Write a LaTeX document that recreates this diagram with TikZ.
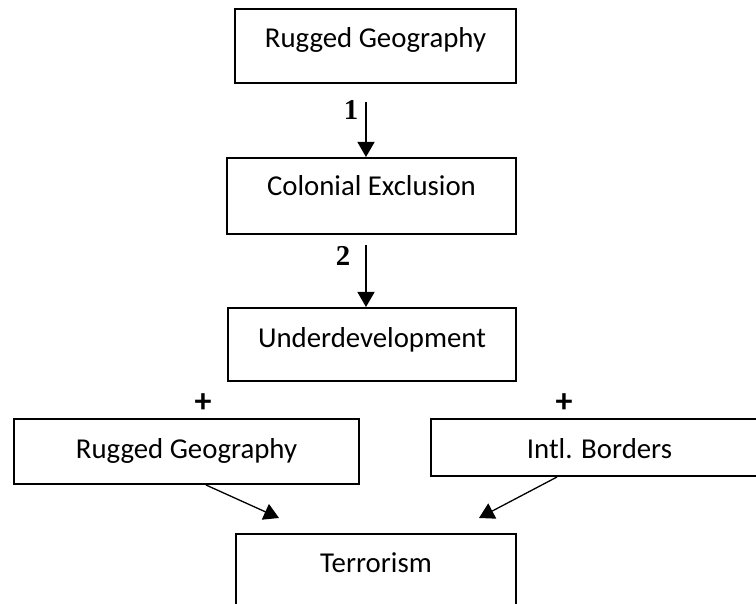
\documentclass[tikz,border=0pt]{standalone}
\usepackage{fontspec}
\newfontfamily\boxfont{Carlito}
\newfontfamily\numfont{Liberation Serif}
\usepackage{tikz}
\usetikzlibrary{arrows.meta,positioning}
\tikzset{
  >={Triangle[length=7.5pt,width=8.5pt]},
  cbox/.style={draw, line width=1pt, inner sep=0pt, anchor=north west,
    font=\boxfont\fontsize{14.4}{17}\selectfont},
  plusmark/.style={font=\boxfont\bfseries\fontsize{17}{20}\selectfont, inner sep=0pt},
  steplbl/.style={font=\numfont\bfseries\fontsize{14.4}{17}\selectfont, inner sep=0pt},
  link/.style={->, line width=0.65pt},
}

\begin{document}
\begin{tikzpicture}[x=0.5pt, y=0.5pt]
\useasboundingbox (0,0) rectangle (756,604);
% the chain
\node[cbox, minimum width=140.5pt, text height=19.5pt, text depth=17.5pt] (geo) at (234,596) {Rugged Geography};
\node[cbox, minimum width=144.5pt, text height=19pt, text depth=19pt] (colon) at (226,447) {Colonial Exclusion};
\node[cbox, minimum width=144pt, text height=20pt, text depth=16.5pt] (under) at (227,297) {Underdevelopment};
% the two conditions
\node[cbox, minimum width=172.5pt, text height=20pt, text depth=12.5pt] (geotwo) at (13,186) {Rugged Geography};
\node[cbox, minimum width=168.5pt, text height=20pt, text depth=8.5pt] (borders) at (430,186) {Intl. Borders};
\node[plusmark] (plusl) at (203,201) {+};
\node[plusmark] (plusr) at (564,201) {+};
% outcome
\node[cbox, minimum width=140pt, text height=19.5pt, text depth=20pt] (terror) at (235,71) {Terrorism};
% arrows
\draw[link] ([xshift=-4.75pt, yshift=-9pt]geo.south) -- ([xshift=-2.75pt]colon.north)
  node[steplbl, pos=0.14, anchor=east, xshift=-3.5pt] (one) {1};
\draw[link] ([xshift=-2.75pt, yshift=-5pt]colon.south) -- ([xshift=-3pt]under.north)
  node[steplbl, pos=0.17, anchor=east, xshift=-7.5pt] (two) {2};
\draw[link] ([xshift=9.75pt]geotwo.south) -- ([xshift=-48.5pt, yshift=7.5pt]terror.north);
\draw[link] ([xshift=-21.25pt]borders.south) -- ([xshift=51.5pt, yshift=7.5pt]terror.north);
\end{tikzpicture}
\end{document}
